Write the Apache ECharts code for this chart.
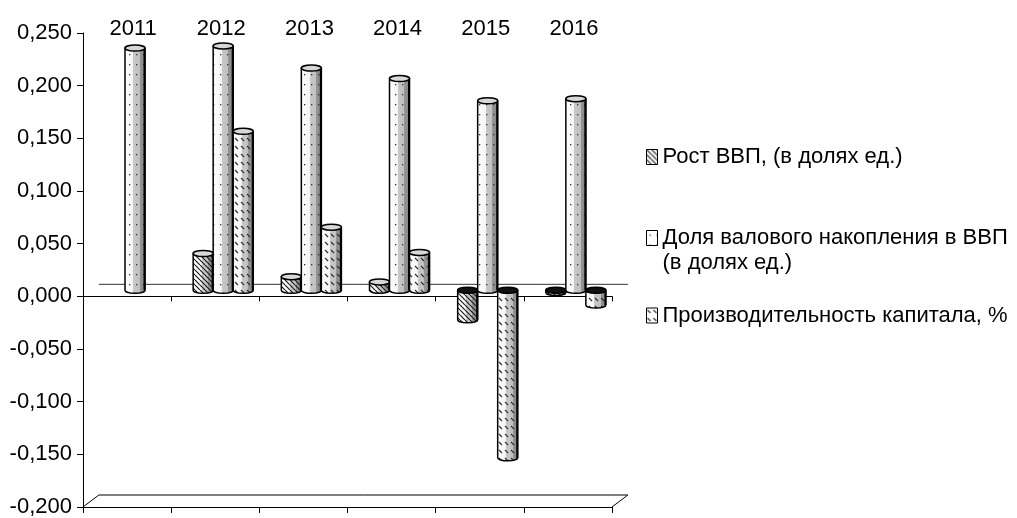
<!DOCTYPE html>
<html><head><meta charset="utf-8">
<script src="https://cdn.jsdelivr.net/npm/echarts@6/dist/echarts.min.js"></script>
<style>html,body{margin:0;padding:0;background:#fff}#c{width:1017px;height:518px}</style>
</head><body><div id="c"></div>
<script>
// ---- data ----
const categories = ['2011', '2012', '2013', '2014', '2015', '2016'];
const seriesNames = [
  'Рост ВВП, (в долях ед.)',
  'Доля валового накопления в ВВП (в долях ед.)',
  'Производительность капитала, %'
];
const gdpGrowth = [null, 0.035, 0.013, 0.008, -0.028, -0.002];
const accumulationShare = [0.230, 0.232, 0.211, 0.201, 0.180, 0.182];
const capitalProductivity = [null, 0.151, 0.060, 0.036, -0.159, -0.014];
const yMin = -0.2, yMax = 0.25, yStep = 0.05;

// ---- styling helpers ----
const FONT = "'Liberation Sans', Arial, sans-serif";
function tile(w, h, bg, draw) {
  const c = document.createElement('canvas');
  c.width = w; c.height = h;
  const g = c.getContext('2d');
  if (bg) { g.fillStyle = bg; g.fillRect(0, 0, w, h); }
  draw(g, w, h);
  return c;
}
function hatch(bg) {
  return tile(5, 5, bg, (g, w, h) => {
    g.strokeStyle = '#1a1a1a'; g.lineWidth = 1.2; g.beginPath();
    for (const o of [-w, 0, w]) { g.moveTo(o, 0); g.lineTo(o + w, h); }
    g.stroke();
  });
}
function dots(bg) {
  return tile(7, 10, bg, (g) => { g.fillStyle = '#333'; g.fillRect(3, 4, 1.3, 1.3); });
}
function dashes(bg) {
  return tile(6, 8, bg, (g) => {
    g.strokeStyle = '#2a2a2a'; g.lineWidth = 1.1; g.beginPath();
    g.moveTo(1, 2); g.lineTo(4, 5); g.stroke();
  });
}
const barTiles = [hatch(null), dots(null), dashes(null)];
const legendTiles = [hatch('#fff'), dots('#fff'), dashes('#fff')];

const bodyGrad = {
  type: 'linear', x: 0, y: 0, x2: 1, y2: 0, colorStops: [
    { offset: 0, color: '#ffffff' }, { offset: 0.42, color: '#f4f4f4' },
    { offset: 0.42, color: '#c8c8c8' }, { offset: 0.74, color: '#c0c0c0' },
    { offset: 0.74, color: '#969696' }, { offset: 1, color: '#858585' }
  ]
};

function cylinderRenderer(k) {
  const pattern = { image: barTiles[k], repeat: 'repeat' };
  return function (params, api) {
    const v = api.value(1);
    if (v === null || v === undefined || isNaN(v)) return null;
    const idx = api.value(0);
    const band = api.size([1, 0])[0];
    const bw = band * 0.227, dx = band * 0.09, dy = -band * 0.068;
    const p0 = api.coord([idx, 0]), p1 = api.coord([idx, v]);
    const cx = p0[0] + dx + (k - 1) * bw;
    const x0 = cx - bw / 2, x1 = cx + bw / 2, rx = bw / 2, ry = bw * 0.15;
    const yB = p0[1] + dy, yE = p1[1] + dy;
    const yTop = Math.min(yB, yE), yBot = Math.max(yB, yE);
    const body = `M${x0} ${yTop} L${x0} ${yBot} A${rx} ${ry} 0 0 0 ${x1} ${yBot} L${x1} ${yTop} Z`;
    const cap = `M${x0} ${yTop} A${rx} ${ry} 0 1 0 ${x1} ${yTop} A${rx} ${ry} 0 1 0 ${x0} ${yTop} Z`;
    const neg = v < 0;
    return {
      type: 'group', children: [
        { type: 'path', shape: { pathData: body }, style: { fill: bodyGrad, stroke: null } },
        { type: 'path', shape: { pathData: body }, style: { fill: pattern, stroke: '#000', lineWidth: 1.5 } },
        { type: 'line', shape: { x1: x1 - 0.5, y1: yTop, x2: x1 - 0.5, y2: yBot }, style: { stroke: '#000', lineWidth: 2 } },
        { type: 'path', shape: { pathData: cap }, style: { fill: neg ? '#111' : '#d8d8d8', stroke: '#000', lineWidth: 1.5 } }
      ]
    };
  };
}

function floorRenderer(params, api) {
  const cs = params.coordSys;
  const band = api.size([1, 0])[0];
  const DX = band * 0.18, DY = band * 0.136;
  const yZero = api.coord([0, 0])[1];
  const yBot = cs.y + cs.height, xL = cs.x, xR = cs.x + cs.width;
  const ln = (a, b, c, d, col) => ({ type: 'line', shape: { x1: a, y1: b, x2: c, y2: d }, style: { stroke: col, lineWidth: 1 } });
  return {
    type: 'group', children: [
      ln(xL + DX, yZero - DY, xR + DX, yZero - DY, '#333'),
      ln(xL + DX, yBot - DY, xR + DX, yBot - DY, '#000'),
      ln(xL, yBot, xL + DX, yBot - DY, '#000'),
      ln(xR, yBot, xR + DX, yBot - DY, '#000')
    ]
  };
}

const seriesValues = [gdpGrowth, accumulationShare, capitalProductivity];
const series = [{
  type: 'custom', name: '_floor', silent: true, z: 1, xAxisIndex: 0, yAxisIndex: 0,
  data: [[0, 0]], renderItem: floorRenderer, clip: false
}];
seriesValues.forEach((vals, k) => {
  series.push({
    type: 'custom', name: seriesNames[k], silent: true, z: 3, xAxisIndex: 0, yAxisIndex: 0,
    itemStyle: { color: '#ccc' },
    encode: { x: 0, y: 1 },
    data: vals.map((v, i) => [i, v]),
    renderItem: cylinderRenderer(k), clip: false
  });
});

const txt = { color: '#000', fontFamily: FONT, fontSize: 22 };
function legendFor(k, top, formatter, rich) {
  return {
    left: 646, top: top, orient: 'vertical', padding: 0, itemWidth: 11, itemHeight: 15,
    selectedMode: false,
    data: [{ name: seriesNames[k], icon: 'rect',
      itemStyle: { color: { image: legendTiles[k], repeat: 'repeat' }, borderColor: '#000', borderWidth: 1 } }],
    textStyle: Object.assign({ lineHeight: 25, rich: rich || {} }, txt),
    formatter: formatter
  };
}

const option = {
  animation: false,
  backgroundColor: '#fff',
  grid: { left: 83, right: 405, top: 33, bottom: 9 },
  legend: [
    legendFor(0, 144.5),
    legendFor(1, 200.5, () => '{p| }\n{t|Доля валового накопления в ВВП}\n{t|(в долях ед.)}',
      { p: { lineHeight: 25, fontSize: 22 }, t: Object.assign({ lineHeight: 25 }, txt) }),
    legendFor(2, 303)
  ],
  xAxis: [
    { type: 'category', data: categories, position: 'bottom',
      axisLine: { onZero: true, lineStyle: { color: '#000', width: 1 } },
      axisTick: { show: true, length: 5, lineStyle: { color: '#000' } },
      axisLabel: { show: false }, splitLine: { show: false } },
    { type: 'category', data: categories, position: 'bottom',
      axisLine: { onZero: false, lineStyle: { color: '#000', width: 1 } },
      axisTick: { show: true, length: 6, lineStyle: { color: '#000' } },
      axisLabel: { show: false }, splitLine: { show: false } },
    { type: 'category', data: categories, position: 'top',
      axisLine: { show: false }, axisTick: { show: false }, splitLine: { show: false },
      axisLabel: Object.assign({ margin: 4, verticalAlign: 'middle', padding: [0, 0, 0, 12], lineHeight: 22 }, txt) }
  ],
  yAxis: {
    type: 'value', min: yMin, max: yMax, interval: yStep,
    axisLine: { show: true, onZero: false, lineStyle: { color: '#000', width: 1 } },
    axisTick: { show: true, length: 6, lineStyle: { color: '#000' } },
    splitLine: { show: false },
    axisLabel: Object.assign({ margin: 11, formatter: v => v.toFixed(3).replace('.', ',') }, txt)
  },
  series: series
};

const chart = echarts.init(document.getElementById('c'), null, { renderer: 'canvas' });
chart.setOption(option);
</script></body></html>
